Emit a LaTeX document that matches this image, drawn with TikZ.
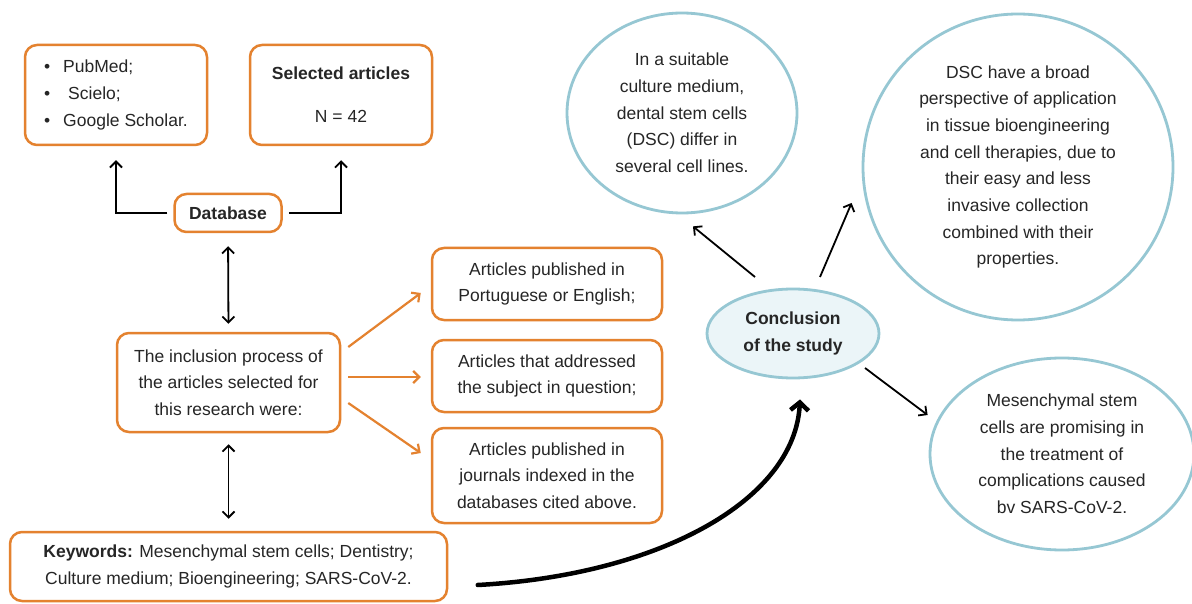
\documentclass[tikz,border=0pt]{standalone}
\usepackage{fontspec}
\setmainfont{Liberation Sans}
\usetikzlibrary{arrows.meta,shapes.geometric,calc}
\definecolor{org}{HTML}{E4822F}
\definecolor{cb}{HTML}{96C7D3}
\definecolor{cfill}{HTML}{EBF5F8}
\begin{document}
\begin{tikzpicture}[x=1pt,y=-1pt,
  every node/.style={font=\fontsize{17.5}{26.7}\selectfont, inner sep=0pt, text=black!85},
  obox/.style={draw=org, line width=2.5pt, rounded corners=12pt, align=center},
  bcirc/.style={ellipse, draw=cb, line width=2.8pt, align=center},
  blk/.style={draw=black, line width=1.8pt, -{Straight Barb[length=6pt,width=12pt]}},
  blk2/.style={draw=black, line width=1.8pt, {Straight Barb[length=6pt,width=12pt]}-{Straight Barb[length=6pt,width=12pt]}},
  oarr/.style={draw=org, line width=2.2pt, -{Straight Barb[length=6pt,width=12pt]}},
  bigarr/.style={draw=black, line width=4.5pt, line cap=round, -{Straight Barb[length=8pt,width=18pt]}}]
\useasboundingbox (0,0) rectangle (1192,604);
\fill[white] (0,0) rectangle (1192,604);

% left boxes
\node[obox, minimum width=182pt, minimum height=100pt, align=left] (src) at (116,95)
  {\makebox[19pt][l]{\textbullet}PubMed;\\\makebox[24pt][l]{\textbullet}Scielo;\\\makebox[19pt][l]{\textbullet}Google Scholar.};
\node[obox, minimum width=182pt, minimum height=100pt] (sel) at (341,95)
  {\textbf{Selected articles}\\[16pt]N = 42};
\node[obox, minimum width=107pt, minimum height=38pt] (db) at (228,213) {\textbf{Database}};
\node[obox, minimum width=223pt, minimum height=99pt] (inc) at (228.5,382.5)
  {The inclusion process of\\the articles selected for\\this research were:};
\node[obox, minimum width=230pt, minimum height=72pt] (ba) at (547,284)
  {Articles published in\\Portuguese or English;};
\node[obox, minimum width=230pt, minimum height=72pt] (bb) at (547,376)
  {Articles that addressed\\the subject in question;};
\node[obox, minimum width=230pt, minimum height=95pt] (bc) at (547,475.5)
  {Articles published in\\journals indexed in the\\databases cited above.};
\node[obox, minimum width=437pt, minimum height=69pt] (kw) at (228.5,566.5)
  {\textbf{Keywords:} Mesenchymal stem cells; Dentistry;\\Culture medium; Bioengineering; SARS-CoV-2.};

% circles
\node[bcirc, minimum width=230pt, minimum height=200pt] (c1) at (682,113)
  {In a suitable\\culture medium,\\dental stem cells\\(DSC) differ in\\several cell lines.};
\node[bcirc, minimum width=310pt, minimum height=306pt] (c2) at (1018,167)
  {DSC have a broad\\perspective of application\\in tissue bioengineering\\and cell therapies, due to\\their easy and less\\invasive collection\\combined with their\\properties.};
\node[bcirc, minimum width=264pt, minimum height=192pt] (c3) at (1062,454)
  {Mesenchymal stem\\cells are promising in\\the treatment of\\complications caused\\bv SARS-CoV-2.};
\node[bcirc, fill=cfill, minimum width=172pt, minimum height=89pt] (conc) at (793,333.5)
  {\textbf{Conclusion}\\\textbf{of the study}};

% black connectors
\draw[blk, shorten <=6pt, shorten >=14pt] (db.west) -| (src.south);
\draw[blk, shorten <=6pt, shorten >=14pt] (db.east) -| (sel.south);
\draw[blk2, shorten <=13pt, shorten >=8pt] (db.south) -- (inc.north);
\draw[blk2, shorten <=11pt, shorten >=12pt] (inc.south) -- (kw.north);

% orange connectors
\draw[oarr] ($(inc.east)+(7,-35.5)$) -- ($(ba.west)+(-10,9)$);
\draw[oarr] ($(inc.east)+(7,-5.5)$) -- ($(bb.west)+(-10,1)$);
\draw[oarr] ($(inc.east)+(7,20.5)$) -- ($(bc.west)+(-10,-22.5)$);

% conclusion connectors
\draw[blk] ($(conc.center)+(-38,-56.5)$) -- ($(c1.south)+(11,12)$);
\draw[blk] ($(conc.center)+(27,-56.5)$) -- ($(c2.west)+(-10,36)$);
\draw[blk] ($(conc.center)+(72,34.5)$) -- ($(c3.west)+(-1,-39)$);

% big curved arrow
\draw[bigarr] ($(kw.east)+(29.5,18.5)$) .. controls (660,575) and (795,500) .. ($(conc.south)+(7,20)$);
\end{tikzpicture}
\end{document}
